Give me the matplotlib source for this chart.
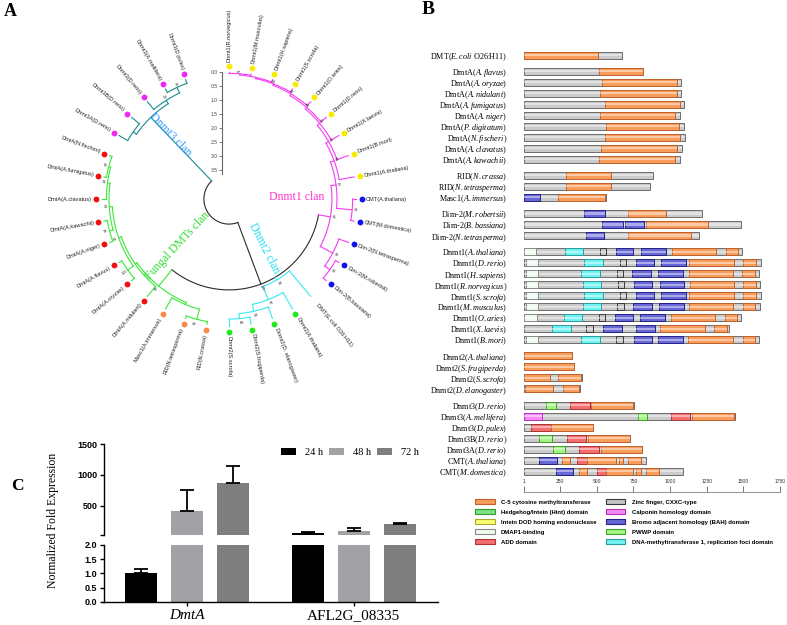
import numpy as np
import matplotlib
matplotlib.use('Agg')
import matplotlib.pyplot as plt
from matplotlib.patches import Patch

plt.rcParams['font.family'] = 'Liberation Serif'
plt.rcParams['mathtext.fontset'] = 'custom'
plt.rcParams['mathtext.rm'] = 'Liberation Serif'
plt.rcParams['mathtext.it'] = 'Liberation Serif:italic'

W, H = 787, 625
SANS = 'Liberation Sans'


def rect(x0, y0, x1, y1):
    # pixel box (origin top-left) -> figure fraction [l, b, w, h]
    return [x0 / W, 1 - y1 / H, (x1 - x0) / W, (y1 - y0) / H]


# ---------------- Panel A data: circular tree ----------------
# leaves clockwise from the top, one slot each (one empty slot at the end)
leaf_names = [
    'Dnmt1(R.norvegicus)', 'Dnmt1(M.musculus)', 'Dnmt1(H.sapiens)', 'Dnmt1(S.scrofa)',
    'Dnmt1(O.aries)', 'Dnmt1(D.rerio)', 'Dnmt1(X.laevis)', 'Dnmt1(B.mori)',
    'Dnmt1(A.thaliana)', 'CMT(A.thaliana)', 'CMT(M.domestica)', 'Dim-2(N.tetrasperma)',
    'Dim-2(M.robertsii)', 'Dim-2(B.bassiana)', 'DMT(E.coli O26:H11)', 'Dnmt2(A.thaliana)',
    'Dnmt2(D. elanogaster)', 'Dnmt2(S.frugiperda)', 'Dnmt2(S.scrofa)', 'RID(N.crassa)',
    'RID(N.tetrasperma)', 'Masc1(A.immersus)', 'DmtA(A.nidulant)', 'DmtA(A.oryzae)',
    'DmtA(A.flavus)', 'DmtA(A.niger)', 'DmtA(A.kawachii)', 'DmtA(A.clavatus)',
    'DmtA(A.fumigatus)', 'DmtA(N.fischeri)', 'Dnmt3A(D.rerio)', 'Dnmt3B(D.rerio)',
    'Dnmt3(D.rerio)', 'Dnmt3(A.mellifera)', 'Dnmt3(D.pulex)',
]
leaf_groups = (['Dnmt1'] * 9 + ['CMT'] * 2 + ['Dim2'] * 3 + ['DMT'] + ['Dnmt2'] * 4
               + ['RID'] * 3 + ['DmtA'] * 8 + ['Dnmt3'] * 5)
n_slots = 36

dot_color = {'Dnmt1': '#f7ec00', 'CMT': '#1010f0', 'Dim2': '#1010f0', 'DMT': None,
             'Dnmt2': '#22e822', 'RID': '#fb8a48', 'DmtA': '#f01010', 'Dnmt3': '#ee2aee'}

BLACK, TEAL, GREEN, CYAN, MAG = '#2a2a2a', '#1b8c8c', '#3ae83a', '#3ae8f0', '#f43cf4'


def node(h, bs, *kids, color=None):
    # h: distance from the tips (scale-bar units), bs: bootstrap support
    return {'h': h, 'bs': bs, 'kids': kids, 'color': color}


tree = node(3.64, None,
    node(1.29, 100,
        node(0.86, 66,
            node(0.68, 50,
                node(0.54, 48, 'Dnmt1(A.thaliana)',
                    node(0.43, 80, 'Dnmt1(B.mori)',
                        node(0.32, 87, 'Dnmt1(X.laevis)',
                            node(0.25, 49, 'Dnmt1(D.rerio)',
                                node(0.18, 80, 'Dnmt1(O.aries)',
                                    node(0.13, 61, 'Dnmt1(S.scrofa)',
                                        node(0.09, None, 'Dnmt1(H.sapiens)',
                                            node(0.05, 71, 'Dnmt1(M.musculus)',
                                                 'Dnmt1(R.norvegicus)')))))))),
                node(0.12, 98, 'CMT(A.thaliana)', 'CMT(M.domestica)')),
            node(0.36, 99, 'Dim-2(N.tetrasperma)',
                node(0.14, 98, 'Dim-2(M.robertsii)', 'Dim-2(B.bassiana)')),
            color=MAG),
        node(1.18, 93, 'DMT(E.coli O26:H11)',
            node(0.68, 97, 'Dnmt2(A.thaliana)',
                node(0.43, 91, 'Dnmt2(D. elanogaster)',
                    node(0.25, 43, 'Dnmt2(S.frugiperda)', 'Dnmt2(S.scrofa)'))),
            color=CYAN),
        node(0.54, 98,
            node(0.46, None, 'DmtA(A.nidulant)',
                node(0.36, 85,
                    node(0.12, 100, 'DmtA(A.oryzae)', 'DmtA(A.flavus)'),
                    node(0.25, 38,
                        node(0.12, 99, 'DmtA(A.niger)', 'DmtA(A.kawachii)'),
                        node(0.16, 99, 'DmtA(A.clavatus)',
                            node(0.09, 99, 'DmtA(A.fumigatus)', 'DmtA(N.fischeri)'))))),
            node(0.46, None, 'Masc1(A.immersus)',
                node(0.09, 99, 'RID(N.tetrasperma)', 'RID(N.crassa)')),
            color=GREEN)),
    node(0.50, None,
        node(0.36, None, 'Dnmt3A(D.rerio)', 'Dnmt3B(D.rerio)'),
        node(0.36, 20, 'Dnmt3(D.rerio)',
            node(0.14, 96, 'Dnmt3(A.mellifera)', 'Dnmt3(D.pulex)')),
        color=TEAL),
    color=BLACK)

clade_labels = [('Dnmt3 clan', 317.8, 3.09, -46, '#3399ff'),
                ('Dnmt1 clan', 88, 2.42, 0, '#ff33cc'),
                ('Fungal DMTs clan', 227.3, 2.48, 47, '#33dd33'),
                ('Dnmt2 clan', 144.5, 2.15, -63, '#22ddee')]

# ---------------- Panel B data: domain architecture ----------------
prot_names = [
    r'DMT($\it{E.coli}$ O26:H11)',
    r'DmtA($\it{A.flavus}$)', r'DmtA($\it{A.oryzae}$)', r'DmtA($\it{A.nidulant}$)',
    r'DmtA($\it{A.fumigatus}$)', r'DmtA($\it{A.niger}$)', r'DmtA($\it{P.digitatum}$)',
    r'DmtA($\it{N.fischeri}$)', r'DmtA($\it{A.clavatus}$)', r'DmtA($\it{A.kawachii}$)',
    r'RID($\it{N.crassa}$)', r'RID($\it{N.tetrasperma}$)', r'Masc1($\it{A.immersus}$)',
    r'Dim-2($\it{M.robertsii}$)', r'Dim-2($\it{B.bassiana}$)', r'Dim-2($\it{N.tetrasperma}$)',
    r'Dnmt1($\it{A.thaliana}$)', r'Dnmt1($\it{D.rerio}$)', r'Dnmt1($\it{H.sapiens}$)',
    r'Dnmt1($\it{R.norvegicus}$)', r'Dnmt1($\it{S.scrofa}$)', r'Dnmt1($\it{M.musculus}$)',
    r'Dnmt1($\it{O.aries}$)', r'Dnmt1($\it{X.laevis}$)', r'Dnmt1($\it{B.mori}$)',
    r'Dnmt2($\it{A.thaliana}$)', r'Dnmt2($\it{S.frugiperda}$)', r'Dnmt2($\it{S.scrofa}$)',
    r'Dnmt2($\it{D.elanogaster}$)',
    r'Dnmt3($\it{D.rerio}$)', r'Dnmt3($\it{A.mellifera}$)', r'Dnmt3($\it{D.pulex}$)',
    r'Dnmt3B($\it{D.rerio}$)', r'Dnmt3A($\it{D.rerio}$)', r'CMT($\it{A.thaliana}$)',
    r'CMT($\it{M.domestica}$)',
]
group_sizes = [1, 9, 3, 3, 9, 4, 7]
prot_len = [672, 815, 1073, 1073, 1097, 1068, 1097, 1104, 1079, 1068,
            886, 861, 561, 1220, 1486, 1197,
            1493, 1622, 1604, 1615, 1622, 1615, 1481, 1402, 1604,
            330, 341, 402, 384,
            752, 1443, 475, 725, 811, 838, 1088]
prot_domains = [
    [(1, 511, 'C5')],
    [(516, 812, 'C5')],
    [(538, 1047, 'C5')],
    [(525, 1047, 'C5')],
    [(554, 1068, 'C5')],
    [(525, 1036, 'C5')],
    [(561, 1063, 'C5')],
    [(557, 1070, 'C5')],
    [(530, 1050, 'C5')],
    [(516, 1036, 'C5')],
    [(293, 597, 'C5')],
    [(293, 597, 'C5')],
    [(1, 113, 'BAH'), (232, 555, 'C5')],
    [(413, 553, 'BAH'), (716, 975, 'C5')],
    [(536, 679, 'BAH'), (693, 822, 'BAH'), (838, 1258, 'C5')],
    [(427, 550, 'BAH'), (716, 1145, 'C5')],
    [(1, 88, 'DMAP'), (281, 406, 'RFD'), (522, 565, 'ZF'), (631, 749, 'BAH'),
     (804, 975, 'BAH'), (1016, 1316, 'C5'), (1384, 1466, 'C5')],
    [(14, 100, 'DMAP'), (413, 543, 'RFD'), (657, 702, 'ZF'), (766, 891, 'BAH'),
     (936, 1111, 'BAH'), (1129, 1436, 'C5'), (1497, 1588, 'C5')],
    [(14, 100, 'DMAP'), (395, 525, 'RFD'), (638, 682, 'ZF'), (743, 872, 'BAH'),
     (918, 1088, 'BAH'), (1129, 1429, 'C5'), (1493, 1577, 'C5')],
    [(14, 100, 'DMAP'), (404, 529, 'RFD'), (645, 688, 'ZF'), (754, 879, 'BAH'),
     (929, 1097, 'BAH'), (1134, 1436, 'C5'), (1500, 1588, 'C5')],
    [(14, 100, 'DMAP'), (413, 543, 'RFD'), (657, 702, 'ZF'), (766, 888, 'BAH'),
     (936, 1111, 'BAH'), (1129, 1436, 'C5'), (1500, 1588, 'C5')],
    [(14, 100, 'DMAP'), (404, 529, 'RFD'), (641, 686, 'ZF'), (750, 879, 'BAH'),
     (927, 1095, 'BAH'), (1129, 1431, 'C5'), (1500, 1579, 'C5')],
    [(1, 93, 'DMAP'), (273, 400, 'RFD'), (516, 559, 'ZF'), (625, 750, 'BAH'),
     (797, 968, 'BAH'), (1006, 1309, 'C5'), (1375, 1456, 'C5')],
    [(191, 327, 'RFD'), (429, 475, 'ZF'), (543, 672, 'BAH'), (766, 900, 'BAH'),
     (932, 1240, 'C5'), (1302, 1388, 'C5')],
    [(14, 100, 'DMAP'), (395, 525, 'RFD'), (634, 679, 'ZF'), (752, 875, 'BAH'),
     (918, 1088, 'BAH'), (1125, 1429, 'C5'), (1495, 1577, 'C5')],
    [(1, 329, 'C5')],
    [(1, 341, 'C5')],
    [(1, 182, 'C5'), (232, 391, 'C5')],
    [(9, 202, 'C5'), (270, 379, 'C5')],
    [(150, 220, 'PWWP'), (316, 452, 'ADD'), (463, 747, 'C5')],
    [(1, 123, 'CH'), (784, 841, 'PWWP'), (1006, 1136, 'ADD'), (1152, 1436, 'C5')],
    [(50, 184, 'ADD'), (184, 475, 'C5')],
    [(107, 191, 'PWWP'), (298, 429, 'ADD'), (443, 725, 'C5')],
    [(198, 282, 'PWWP'), (379, 516, 'ADD'), (527, 811, 'C5')],
    [(107, 225, 'BAH'), (259, 316, 'C5'), (368, 434, 'ADD'), (434, 629, 'C5'),
     (650, 679, 'C5'), (713, 804, 'C5')],
    [(220, 339, 'BAH'), (379, 434, 'C5'), (498, 561, 'ADD'), (561, 747, 'C5'),
     (770, 804, 'C5'), (838, 922, 'C5')],
]
scale_ticks = [1, 250, 500, 750, 1000, 1250, 1500, 1750]
legend_codes = ['C5', 'HINT', 'DOD', 'DMAP', 'ADD', 'ZF', 'CH', 'BAH', 'PWWP', 'RFD']
legend_labels = ['C-5 cytosine methyltransferase', 'Hedgehog/Intein (Hint) domain',
                 'Intein DOD homing endonuclease', 'DMAP1-binding', 'ADD domain',
                 'Zinc finger, CXXC-type', 'Calponin homology domain',
                 'Bromo adjacent homology (BAH) domain', 'PWWP domain',
                 'DNA-methyltransferase 1, replication foci domain']

dom_style = {
    'C5': ('#f99d5c', '#c0622c'),
    'ZF': ('#c4c4c4', '#3a3a3a'),
    'HINT': ('#7ee07e', '#2f9a2f'),
    'CH': ('#f58cf5', '#b830b8'),
    'DOD': ('#fbfb70', '#a8a830'),
    'BAH': ('#6868d4', '#22228a'),
    'DMAP': ('#effaef', '#8a8a8a'),
    'PWWP': ('#a4f484', '#44a030'),
    'ADD': ('#f36e6e', '#b03434'),
    'RFD': ('#70f2f2', '#2a9e9e'),
}
BASE = ('#cbcbcb', '#6c6c6c')

# ---------------- Panel C data: qPCR ----------------
genes = ['DmtA', 'AFL2G_08335']
times = ['24 h', '48 h', '72 h']
expr = np.array([[1.02, 424, 866],
                 [69, 97, 214]])
expr_err = np.array([[0.12, 334, 280],
                     [3, 43, 15]])
time_colors = ['#000000', '#a2a2a6', '#7e7e7e']

fig = plt.figure(figsize=(W / 100, H / 100), dpi=100)

# ================= Panel A =================
CX, CY, PXU = 229, 199, 28.0      # centre (px) and px per scale unit
R_TIP = 127 / PXU
S = 185
axA = fig.add_axes(rect(CX - S, CY - S, CX + S, CY + S), projection='polar')
axA.set_theta_zero_location('N')
axA.set_theta_direction(-1)
axA.set_rlim(0, S / PXU)
axA.set_axis_off()

leaf_theta = {n: i * 360.0 / n_slots for i, n in enumerate(leaf_names)}
LW = 0.8


def place(n):
    if isinstance(n, str):
        return leaf_theta[n]
    ths = [place(k) for k in n['kids']]
    n['span'] = (min(ths), max(ths))
    n['theta'] = (min(ths) + max(ths)) / 2
    n['r'] = R_TIP - n['h']
    return n['theta']


def radial_rot(th):
    if th <= 180:
        return 90 - th, 'left'
    return 270 - th, 'right'


def draw(n, parent_r, color):
    if isinstance(n, str):
        th = np.radians(leaf_theta[n])
        axA.plot([th, th], [parent_r, R_TIP], color=color, lw=LW)
        g = leaf_groups[leaf_names.index(n)]
        if dot_color[g]:
            axA.plot(th, R_TIP + 0.2, 'o', ms=4.2, color=dot_color[g], mec='none')
        rot, ha = radial_rot(leaf_theta[n])
        axA.text(th, R_TIP + 0.36, n, rotation=rot, rotation_mode='anchor', ha=ha,
                 va='center', fontsize=4.1, family=SANS, color='#222222')
        return
    c = n['color'] or color
    th = np.radians(n['theta'])
    if parent_r is not None:
        axA.plot([th, th], [parent_r, n['r']], color=c, lw=LW)
    arc = np.radians(np.linspace(n['span'][0], n['span'][1], 80))
    axA.plot(arc, np.full_like(arc, n['r']), color=c, lw=LW)
    if n['bs'] is not None and parent_r is not None:
        rot, _ = radial_rot(n['theta'])
        axA.text(th, n['r'] + 0.13, str(n['bs']), rotation=rot, rotation_mode='anchor',
                 ha='center', va='center', fontsize=2.8, family=SANS, color='#333333')
    for k in n['kids']:
        draw(k, n['r'], c)


place(tree)
draw(tree, None, BLACK)

for txt, th, r, rot, col in clade_labels:
    axA.text(np.radians(th), r, txt, rotation=rot, ha='center', va='center',
             fontsize=8.5, color=col, rotation_mode='anchor')

# scale bar
axS = fig.add_axes(rect(222, CY - R_TIP * PXU, 223, CY - R_TIP * PXU + tree['h'] * PXU))
axS.set_ylim(tree['h'], 0)
axS.set_xticks([])
axS.set_yticks(np.arange(0, 3.6, 0.5))
axS.set_yticklabels([f'{v:.1f}' for v in np.arange(0, 3.6, 0.5)], fontsize=3.6,
                    family=SANS, color='#444444')
axS.tick_params(axis='y', length=2, width=0.6, pad=1, color='#666666')
for s in ['top', 'right', 'bottom']:
    axS.spines[s].set_visible(False)
axS.spines['left'].set_color('#666666')
axS.spines['left'].set_linewidth(0.8)
axS.patch.set_alpha(0)

# ================= Panel B =================
GAP = 0.47
row_pos = []
y = 0.0
for n in group_sizes:
    for _ in range(n):
        row_pos.append(y)
        y += 1
    y += GAP
last = row_pos[-1]
ppu = (471 - 55) / last
X0, X1 = 523.7, 780
axB = fig.add_axes(rect(X0, 55 - ppu, X1, 471 + ppu))
axB.set_xlim(1, 1750)
axB.set_ylim(last + 1, -1)
axB.patch.set_alpha(0)
for s in axB.spines.values():
    s.set_visible(False)
axB.set_xticks([])
axB.set_yticks(row_pos)
axB.set_yticklabels(prot_names, fontsize=5.9)
axB.tick_params(axis='y', length=0, pad=12)

bh = 7 / ppu
for yy, L, doms in zip(row_pos, prot_len, prot_domains):
    axB.barh(yy, L - 1, left=1, height=bh, color=BASE[0], edgecolor=BASE[1], lw=0.7)
    axB.barh(yy, L - 1, left=1, height=bh * 0.3, color='white', alpha=0.45, lw=0)
    for s0, s1, code in doms:
        fc, ec = dom_style[code]
        axB.barh(yy, s1 - s0, left=s0, height=bh, color=fc, edgecolor=ec, lw=0.7)
        axB.barh(yy, s1 - s0, left=s0, height=bh * 0.3, color='white', alpha=0.45, lw=0)

# scale
axSc = fig.add_axes(rect(X0, 490.7, X1, 491.7))
axSc.set_xlim(1, 1750)
axSc.set_yticks([])
axSc.set_xticks(scale_ticks)
axSc.set_xticklabels([str(t) for t in scale_ticks], fontsize=3.6, family=SANS, color='#333333')
axSc.tick_params(axis='x', bottom=True, top=False, labelbottom=False, labeltop=True,
                 direction='in', length=4, width=0.7, color='#777777', pad=4.5)
for s in ['top', 'left', 'right']:
    axSc.spines[s].set_visible(False)
axSc.spines['bottom'].set_color('#999999')
axSc.patch.set_alpha(0)

handles = [Patch(facecolor=dom_style[c][0], edgecolor=dom_style[c][1], lw=0.8)
           for c in legend_codes]
fig.legend(handles, legend_labels, ncol=2, loc='upper left',
           bbox_to_anchor=(475 / W, 1 - 499 / H), frameon=False,
           prop={'family': SANS, 'weight': 'bold', 'size': 4.3},
           handlelength=3.3, handleheight=1.0, handletextpad=1.05,
           columnspacing=1.5, labelspacing=0.72, borderpad=0, borderaxespad=0)

# ================= Panel C =================
CL, CR = 103.5, 438
GROUP_GAP = 3.65
xg = np.arange(len(genes)) * GROUP_GAP
axU = fig.add_axes(rect(CL, 444, CR, 535))
axL = fig.add_axes(rect(CL, 545, CR, 601.7))
bw = 0.7
for ax in (axU, axL):
    for j in range(len(times)):
        ax.bar(xg + (j - 1), expr[:, j], width=bw, color=time_colors[j], label=times[j])
        ax.errorbar(xg + (j - 1), expr[:, j],
                    yerr=[np.zeros(len(genes)), expr_err[:, j]],
                    fmt='none', ecolor='black', elinewidth=1.3, capsize=5, capthick=1.3)
    ax.set_xlim(-1.83, GROUP_GAP + 1.84)
    ax.spines['top'].set_visible(False)
    ax.spines['right'].set_visible(False)
    ax.spines['left'].set_linewidth(1.0)
    ax.tick_params(axis='y', length=3, width=1.0, pad=1.5)

axU.set_ylim(30, 1500)
axU.spines['bottom'].set_visible(False)
axU.set_xticks([])
axU.set_yticks([30, 500, 1000, 1500])
axU.set_yticklabels(['', '500', '1000', '1500'], family=SANS, weight='bold', fontsize=6.5)

axL.set_ylim(0, 2)
axL.set_yticks(np.arange(0, 2.01, 0.5))
axL.set_yticklabels([f'{v:.1f}' for v in np.arange(0, 2.01, 0.5)], family=SANS,
                    weight='bold', fontsize=6.5)
axL.spines['bottom'].set_linewidth(1.0)
axL.set_xticks(xg)
axL.set_xticklabels(genes, fontsize=11)
axL.get_xticklabels()[0].set_style('italic')
axL.tick_params(axis='x', length=3, width=1.0, pad=2)

h_c, l_c = axU.get_legend_handles_labels()
fig.legend(h_c[:3], l_c[:3], ncol=3, loc='upper left', bbox_to_anchor=(281 / W, 1 - 448 / H),
           frameon=False, fontsize=7.5, handlelength=1.45, handleheight=0.6,
           handletextpad=0.9, columnspacing=0.5, borderpad=0, borderaxespad=0)

fig.text(53 / W, 1 - 520 / H, 'Normalized Fold Expression', rotation=90, ha='center',
         va='center', fontsize=8.5)

# panel letters
fig.text(10 / W, 1 - 11 / H, 'A', fontsize=13, weight='bold', ha='center', va='center')
fig.text(428 / W, 1 - 10 / H, 'B', fontsize=14, weight='bold', ha='center', va='center')
fig.text(17 / W, 1 - 486 / H, 'C', fontsize=12.5, weight='bold', ha='center', va='center')

fig.savefig('out.png', dpi=100)
